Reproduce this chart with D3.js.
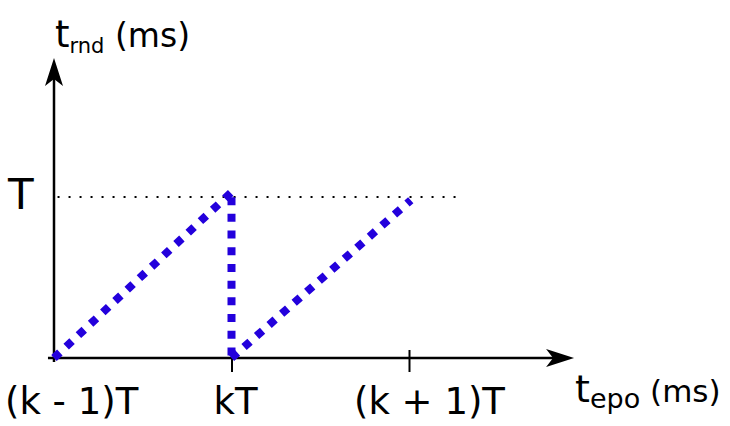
<!DOCTYPE html>
<html>
<head>
<meta charset="utf-8">
<script src="https://cdn.jsdelivr.net/npm/d3@7"></script>
<style>
  body { margin: 0; background: #fff; }
  text { font-family: "DejaVu Sans", sans-serif; fill: #000; }
</style>
</head>
<body>
<svg></svg>
<script>
// periods on the x axis (in units of T from (k-1)T)
let tickValues = [0, 1, 2];
let tickLabels = ['(k - 1)T', 'kT', '(k + 1)T'];

// the sawtooth, one array per segment: [epoch, round time] in units of T
let rampUp1 = [[0, 0], [1, 1.03]];
let resetDrop = [[1, 1.03], [1, 0]];
let rampUp2 = [[1, 0], [2.01, 0.98]];

// level of T on the y axis
let levelT = 1;

let config = {
  'svg': { 'width': 730, 'height': 426 },
  'origin': { 'x': 54, 'y': 358 }
};

// horizontal nudges for tick labels (label is drawn from its left edge)
let labelDx = [-49, -18, -55];

let svg = d3.select('svg');
svg.attr('width', config.svg.width);
svg.attr('height', config.svg.height);

let scale = {};
scale.x = d3.scaleLinear().domain([0, 2]).range([config.origin.x, 409]);
scale.y = d3.scaleLinear().domain([0, 1]).range([config.origin.y, 197]);

let plot = svg.append('g').attr('id', 'plot');

// dotted guide at T
plot.append('line')
  .attr('x1', scale.x(0.02))
  .attr('x2', scale.x(2.3))
  .attr('y1', scale.y(levelT))
  .attr('y2', scale.y(levelT))
  .style('stroke', '#000')
  .style('stroke-width', 2)
  .style('stroke-dasharray', '2,9');

// axis lines
plot.append('line')
  .attr('x1', scale.x(-0.034)).attr('x2', scale.x(2.85))
  .attr('y1', scale.y(0)).attr('y2', scale.y(0))
  .style('stroke', '#000').style('stroke-width', 2.5);

plot.append('line')
  .attr('x1', scale.x(0)).attr('x2', scale.x(0))
  .attr('y1', scale.y(-0.025)).attr('y2', scale.y(1.8))
  .style('stroke', '#000').style('stroke-width', 2.5);

// arrow heads
let arrow = 'M0,0 L-28,-9 L-21,0 L-28,9 Z';
plot.append('path')
  .attr('d', arrow)
  .attr('transform', translate(scale.x(2.93), scale.y(0)))
  .style('fill', '#000');
plot.append('path')
  .attr('d', arrow)
  .attr('transform', translate(scale.x(0), scale.y(1.863)) + ' rotate(-90)')
  .style('fill', '#000');

// ticks and labels with d3 axis
let axis = d3.axisBottom(scale.x)
  .tickValues(tickValues.slice(1))
  .tickSizeOuter(0)
  .tickSize(14)
  .tickFormat('');

let gx = plot.append('g')
  .attr('id', 'x-axis')
  .attr('transform', translate(0, scale.y(0)))
  .call(axis);
gx.select('.domain').remove();
gx.selectAll('.tick line')
  .attr('y1', -8)
  .style('stroke', '#000')
  .style('stroke-width', 2);

plot.selectAll('text.tick-label')
  .data(tickValues)
  .enter()
  .append('text')
  .attr('class', 'tick-label')
  .attr('x', (d, i) => scale.x(d) + labelDx[i])
  .attr('y', 414)
  .style('font-size', '37px')
  .text((d, i) => tickLabels[i]);

// T label on y axis
plot.append('text')
  .attr('x', 8)
  .attr('y', scale.y(levelT) + 12)
  .style('font-size', '42px')
  .text('T');

// sawtooth
let line = d3.line()
  .x(d => scale.x(d[0]))
  .y(d => scale.y(d[1]));

[rampUp1, resetDrop, rampUp2].forEach(function(seg, i) {
  plot.append('path')
    .datum(seg)
    .attr('d', line)
    .style('fill', 'none')
    .style('stroke', '#2300dc')
    .style('stroke-width', 8)
    .style('stroke-dasharray', '8,8.7')
    .style('stroke-dashoffset', i === 1 ? -5 : 0);
});

// axis titles
let yTitle = svg.append('text').attr('x', 55).attr('y', 47);
yTitle.append('tspan').style('font-size', '37px').text('t');
yTitle.append('tspan').style('font-size', '21px').attr('dy', 6).text('rnd');
yTitle.append('tspan').style('font-size', '33px').attr('dy', -6).text(' (ms)');

let xTitle = svg.append('text').attr('x', 575).attr('y', 402);
xTitle.append('tspan').style('font-size', '38px').text('t');
xTitle.append('tspan').style('font-size', '27px').attr('dy', 6).text('epo');
xTitle.append('tspan').style('font-size', '31px').attr('dy', -6).text(' (ms)');

function translate(x, y) {
  return 'translate(' + x + ',' + y + ')';
}
</script>
</body>
</html>
